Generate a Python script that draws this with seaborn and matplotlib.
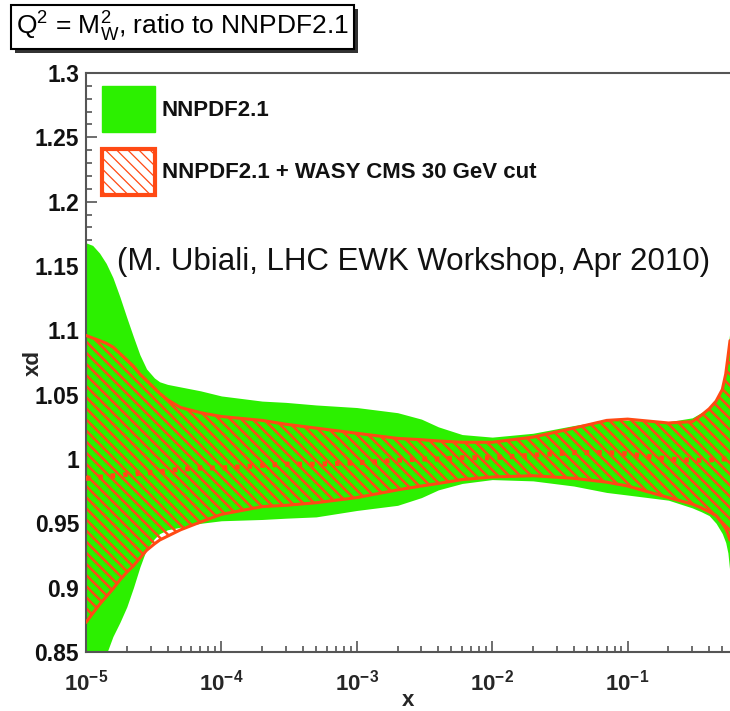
import numpy as np
import pandas as pd
import matplotlib
matplotlib.use("Agg")
import matplotlib.pyplot as plt
from matplotlib.patches import Patch, Rectangle
from matplotlib.ticker import LogLocator, MultipleLocator, FuncFormatter, NullFormatter
import seaborn as sns

# ---------------- data ----------------
x_vals = [1e-5, 1.12e-5, 1.26e-5, 1.41e-5, 1.58e-5, 1.78e-5, 2e-5, 2.24e-5, 2.5e-5, 2.8e-5,
          3.2e-5, 3.5e-5, 4e-5, 5e-5, 7e-5, 1e-4,
          2e-4, 3e-4, 5e-4, 1e-3, 2e-3, 3e-3, 4e-3, 6e-3, 1e-2, 2e-2,
          4e-2, 7e-2, 1e-1, 0.2, 0.3, 0.35, 0.4, 0.45, 0.5, 0.53, 0.55, 0.57]

green_upper = [1.168, 1.166, 1.160, 1.152, 1.141, 1.126, 1.110, 1.095, 1.081, 1.070,
               1.063, 1.060, 1.058, 1.056, 1.053, 1.049,
               1.045, 1.044, 1.042, 1.040, 1.036, 1.031, 1.025, 1.019, 1.017, 1.020,
               1.026, 1.030, 1.030, 1.029, 1.032, 1.036, 1.039, 1.046, 1.056, 1.070, 1.085, 1.100]
green_lower = [0.800, 0.815, 0.830, 0.848, 0.862, 0.873, 0.885, 0.900, 0.916, 0.930,
               0.938, 0.942, 0.945, 0.947, 0.950, 0.952,
               0.953, 0.954, 0.955, 0.960, 0.964, 0.970, 0.976, 0.981, 0.984, 0.983,
               0.979, 0.974, 0.972, 0.968, 0.962, 0.959, 0.956, 0.950, 0.942, 0.935, 0.927, 0.911]

red_upper = [1.096, 1.094, 1.092, 1.090, 1.087, 1.082, 1.077, 1.072, 1.066, 1.061,
             1.055, 1.051, 1.046, 1.040, 1.036, 1.033,
             1.030, 1.027, 1.024, 1.020, 1.016, 1.015, 1.014, 1.013, 1.013, 1.017,
             1.024, 1.030, 1.031, 1.028, 1.029, 1.034, 1.039, 1.045, 1.054, 1.066, 1.079, 1.092]
red_lower = [0.873, 0.880, 0.887, 0.893, 0.899, 0.906, 0.912, 0.917, 0.923, 0.929,
             0.934, 0.937, 0.940, 0.945, 0.951, 0.957,
             0.963, 0.964, 0.966, 0.970, 0.976, 0.979, 0.981, 0.984, 0.986, 0.987,
             0.985, 0.982, 0.979, 0.970, 0.965, 0.962, 0.959, 0.956, 0.950, 0.946, 0.942, 0.937]
red_central = [0.985, 0.985, 0.986, 0.986, 0.987, 0.987, 0.988, 0.988, 0.989, 0.989,
               0.990, 0.990, 0.991, 0.992, 0.993, 0.993,
               0.995, 0.996, 0.996, 0.997, 0.999, 1.000, 1.000, 1.001, 1.001, 1.003,
               1.005, 1.005, 1.004, 1.000, 0.999, 0.999, 0.999, 1.000, 1.000, 1.000, 1.000, 1.000]

xticks = [1e-5, 1e-4, 1e-3, 1e-2, 1e-1]
yticks = [0.85, 0.9, 0.95, 1.0, 1.05, 1.1, 1.15, 1.2, 1.25, 1.3]
ytick_labels = ["0.85", "0.9", "0.95", "1", "1.05", "1.1", "1.15", "1.2", "1.25", "1.3"]
legend_labels = ["NNPDF2.1", "NNPDF2.1 + WASY CMS 30 GeV cut"]
title_text = r"$\mathregular{Q^2}$ = $\mathregular{M_W^2}$, ratio to NNPDF2.1"
note_text = "(M. Ubiali, LHC EWK Workshop, Apr 2010)"

GREEN = "#2CF000"
RED = "#FF4A14"

# ---------------- style ----------------
sns.set_theme(style="white")
plt.rcParams["font.family"] = ["Liberation Sans", "DejaVu Sans"]
plt.rcParams["mathtext.fontset"] = "custom"
plt.rcParams["mathtext.rm"] = "Liberation Sans"
plt.rcParams["mathtext.bf"] = "Liberation Sans:bold"
plt.rcParams["hatch.linewidth"] = 1.8

df = pd.DataFrame({"x": x_vals, "gu": green_upper, "gl": green_lower,
                   "ru": red_upper, "rl": red_lower, "rc": red_central})

fig = plt.figure(figsize=(7.3, 7.11), dpi=100)
ax = fig.add_axes([86 / 730, 59 / 711, 1 - 86 / 730, 579 / 711])
ax.set_xscale("log")

# green band
ax.fill_between(df["x"], df["gl"], df["gu"], color=GREEN, lw=0, zorder=1)
# hatched red band
band = ax.fill_between(df["x"], df["rl"], df["ru"], facecolor="none", edgecolor=RED,
                       hatch="\\\\\\", lw=0, zorder=2)
if hasattr(band, "set_hatch_linewidth"):
    band.set_hatch_linewidth(1.8)
sns.lineplot(data=df, x="x", y="ru", ax=ax, color=RED, lw=2.2, zorder=3)
sns.lineplot(data=df, x="x", y="rl", ax=ax, color=RED, lw=2.2, zorder=3)
sns.lineplot(data=df, x="x", y="rc", ax=ax, color=RED, lw=3.6, zorder=4,
             linestyle=(0, (0.9, 1.6)))

ax.set_xlim(1e-5, 0.57)
ax.set_ylim(0.85, 1.3)

# ticks
ax.set_yticks(yticks)
ax.set_yticklabels(ytick_labels)
ax.yaxis.set_minor_locator(MultipleLocator(0.01))
ax.set_xticks(xticks)
ax.xaxis.set_major_formatter(FuncFormatter(lambda v, p: r"$\mathbf{10^{%d}}$" % round(np.log10(v))))
ax.xaxis.set_minor_locator(LogLocator(base=10, subs=np.arange(2, 10), numticks=20))
ax.xaxis.set_minor_formatter(NullFormatter())
ax.tick_params(axis="both", which="major", direction="in", length=8, width=1.2,
               color="#555555", left=True, bottom=True, top=False, right=False)
ax.tick_params(axis="both", which="minor", direction="in", length=4.5, width=1.2,
               color="#555555", left=True, bottom=True, top=False, right=False)
ax.tick_params(axis="y", which="major", pad=5, labelsize=16.5)
ax.tick_params(axis="x", which="major", pad=13, labelsize=16)
for lab in ax.get_yticklabels():
    lab.set_fontweight("bold")
    lab.set_color("#111111")

for side, sp in ax.spines.items():
    sp.set_color("#555555")
    sp.set_linewidth(1.5)
ax.spines["right"].set_visible(False)

ax.set_xlabel("x", fontsize=16, fontweight="bold", va="center")
ax.xaxis.set_label_coords(0.5, -(700 - 652) / 579)
ax.set_ylabel("xd", fontsize=16, fontweight="bold", va="center")
ax.yaxis.set_label_coords(-(86 - 33) / 644, 0.5)

# legend (thin, light hatch in the legend swatch)
plt.rcParams["hatch.linewidth"] = 0.9
handles = [Patch(facecolor=GREEN, edgecolor=GREEN, lw=1),
           Patch(facecolor="white", edgecolor=RED, hatch="\\\\\\", lw=3)]
leg = ax.legend(handles, legend_labels, loc="upper left", frameon=False,
                prop={"weight": "bold", "size": 16}, handlelength=2.35,
                handleheight=2.8, handletextpad=0.32, labelspacing=0.75,
                borderaxespad=0.3, borderpad=0.3)
leg.set_bbox_to_anchor((3 / 644, 1.0), transform=ax.transAxes)
for t in leg.get_texts():
    t.set_color("#111111")
for h in leg.legend_handles:
    if hasattr(h, "set_hatch_linewidth"):
        h.set_hatch_linewidth(0.9)
plt.rcParams["hatch.linewidth"] = 1.8

fig.text(117 / 730, 1 - 262 / 711, note_text, fontsize=22.5, va="center",
         ha="left", color="#111111")

# title box with shadow
title = fig.text(16 / 730, 1 - 27 / 711, title_text, fontsize=19, va="center",
                 ha="left", color="black", zorder=5,
                 bbox=dict(boxstyle="square,pad=0.2", fc="white", ec="black", lw=1.5))
fig.canvas.draw()
bb = title.get_bbox_patch().get_window_extent()
fig.add_artist(Rectangle((bb.x0 + 4, bb.y0 - 4), bb.width, bb.height,
                         transform=None, facecolor="#333333", edgecolor="none", zorder=4))

fig.savefig("out.png", dpi=100)
